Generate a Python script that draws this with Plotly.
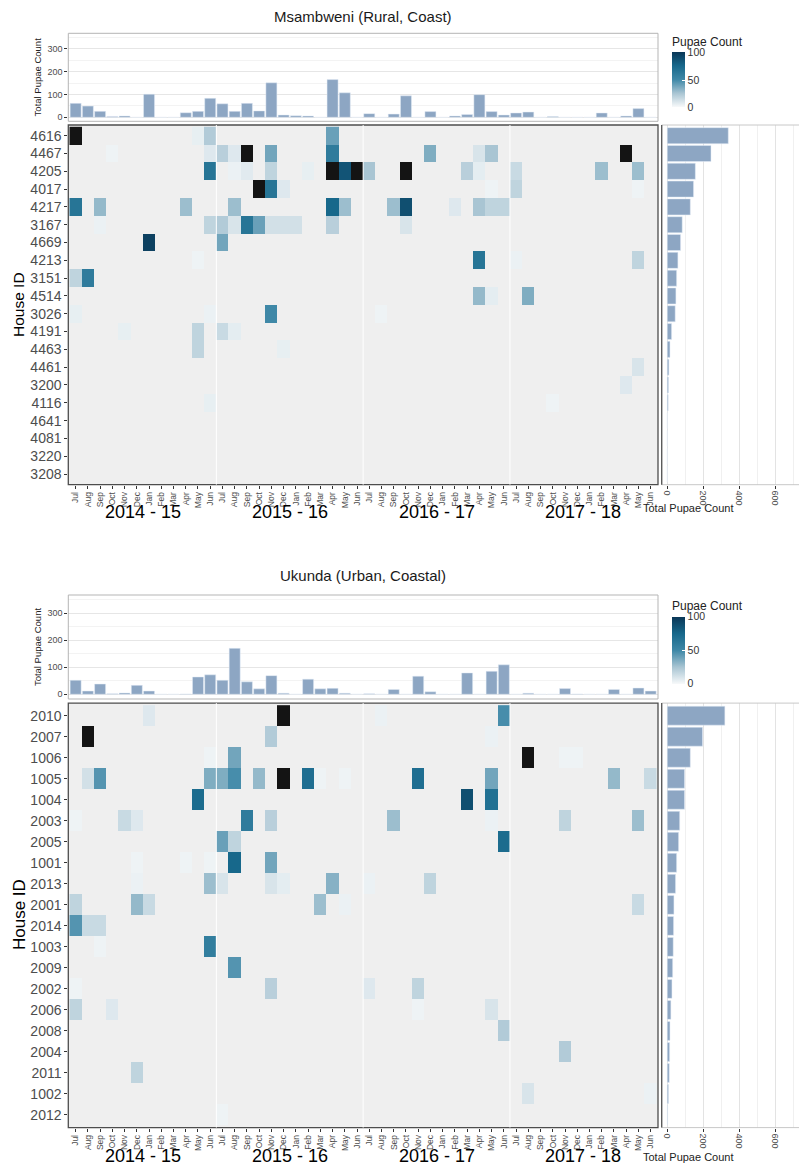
import numpy as np
import plotly.graph_objects as go

W, H = 799, 1166
def fx(p): return p / W
def fy(p): return 1 - p / H

# ---------------- data ----------------
months = ["Jul", "Aug", "Sep", "Oct", "Nov", "Dec", "Jan", "Feb", "Mar", "Apr", "May", "Jun"] * 4
seasons = ["2014 - 15", "2015 - 16", "2016 - 17", "2017 - 18"]

msa_houses = ["4616", "4467", "4205", "4017", "4217", "3167", "4669", "4213", "3151", "4514",
              "3026", "4191", "4463", "4461", "3200", "4116", "4641", "4081", "3220", "3208"]
# monthly pupae per house: {month index (0 = Jul 2014): count}
msa_cells = {
    "4616": {0: 150, 10: 5, 11: 22, 21: 40},
    "4467": {3: 3, 11: 8, 12: 20, 13: 8, 14: 150, 16: 38, 21: 60, 29: 35, 33: 10, 34: 25, 45: 150},
    "4205": {11: 65, 13: 4, 14: 7, 16: 18, 19: 5, 21: 150, 22: 85, 23: 150, 24: 25, 27: 150,
             32: 20, 33: 6, 36: 15, 43: 28, 46: 28},
    "4017": {15: 150, 16: 65, 17: 8, 34: 3, 36: 18, 46: 3},
    "4217": {0: 65, 2: 30, 9: 28, 13: 28, 21: 75, 22: 28, 26: 28, 27: 88, 31: 8, 33: 25, 34: 18, 35: 18},
    "3167": {2: 4, 11: 18, 12: 22, 13: 10, 14: 65, 15: 40, 16: 12, 17: 12, 18: 12, 21: 20, 27: 10},
    "4669": {6: 95, 12: 38},
    "4213": {10: 3, 33: 65, 36: 4, 46: 18},
    "3151": {0: 18, 1: 60},
    "4514": {33: 30, 34: 6, 37: 35},
    "3026": {0: 5, 11: 4, 16: 50, 25: 3},
    "4191": {4: 5, 10: 18, 12: 15, 13: 6},
    "4463": {10: 18, 17: 5},
    "4461": {46: 10},
    "3200": {45: 8},
    "4116": {11: 5, 39: 3},
    "4641": {}, "4081": {}, "3220": {}, "3208": {},
}
msa_month_totals = [61, 49, 26, 4, 6, 0, 101, 0, 0, 20, 26, 83,
                    59, 26, 61, 28, 151, 10, 7, 6, 0, 165, 107, 0,
                    16, 0, 14, 94, 0, 25, 0, 6, 12, 99, 25, 10,
                    19, 23, 0, 3, 0, 0, 0, 19, 0, 6, 38, 0]
msa_house_totals = [339, 243, 156, 146, 128, 83, 74, 59, 52, 48, 44, 24, 15, 9, 7, 5, 0, 0, 0, 0]

uku_houses = ["2010", "2007", "1006", "1005", "1004", "2003", "2005", "1001", "2013", "2001",
              "2014", "1003", "2009", "2002", "2006", "2008", "2004", "2011", "1002", "2012"]
uku_cells = {
    "2010": {6: 8, 17: 150, 25: 4, 35: 48},
    "2007": {1: 150, 16: 22, 34: 4},
    "1006": {11: 3, 13: 38, 37: 150, 40: 3, 41: 3},
    "1005": {1: 12, 2: 45, 11: 35, 12: 35, 13: 48, 15: 30, 17: 150, 19: 70, 20: 3, 22: 3,
             28: 70, 34: 38, 44: 30, 47: 15},
    "1004": {10: 72, 32: 88, 34: 68},
    "2003": {0: 3, 4: 15, 5: 8, 14: 60, 16: 20, 26: 28, 34: 4, 40: 18, 46: 28},
    "2005": {12: 40, 13: 18, 35: 72},
    "1001": {5: 3, 9: 3, 11: 3, 13: 75, 16: 38},
    "2013": {5: 4, 11: 28, 12: 10, 16: 10, 17: 6, 21: 33, 24: 4, 29: 18},
    "2001": {0: 18, 5: 30, 6: 15, 20: 28, 22: 4, 46: 15},
    "2014": {0: 45, 1: 15, 2: 15},
    "1003": {2: 3, 11: 58},
    "2009": {13: 45},
    "2002": {0: 3, 16: 20, 24: 8, 28: 18},
    "2006": {0: 18, 3: 8, 28: 3, 34: 10},
    "2008": {35: 22},
    "2004": {40: 22},
    "2011": {5: 18},
    "1002": {37: 10, 47: 4},
    "2012": {12: 3},
}
uku_month_totals = [52, 12, 38, 2, 5, 33, 12, 0, 0, 1, 64, 72,
                    52, 170, 46, 20, 69, 4, 0, 56, 20, 22, 4, 0,
                    2, 0, 18, 0, 67, 9, 0, 0, 79, 0, 85, 109,
                    0, 4, 0, 0, 21, 1, 0, 0, 18, 0, 23, 12]
uku_house_totals = [320, 196, 128, 96, 96, 69, 63, 52, 46, 37, 35, 33, 30, 26, 20, 15, 13, 11, 7, 2]

# ---------------- styling ----------------
FONT = "Liberation Sans, Arial, sans-serif"
GREY = "#4d4d4d"
BAR = "#8da6c3"
CSCALE = [[0, "#f7f9fa"], [0.25, "#a9c5d3"], [0.5, "#3f88a7"], [0.75, "#17688b"], [1, "#0a3757"]]
HEAT_X = [fx(68.3), fx(658)]
RIGHT_X = [fx(661.7), 1.0]

panels = [
    dict(name="Msambweni (Rural, Coast)", houses=msa_houses, cells=msa_cells,
         mt=msa_month_totals, ht=msa_house_totals,
         title_y=16, top=(33.3, 121.3), heat=(125.0, 484.7), year_y=512, rtitle_y=508,
         cb_mid=70.5, cb_len=74, hid_size=15.5, hid_y=305),
    dict(name="Ukunda (Urban, Coastal)", houses=uku_houses, cells=uku_cells,
         mt=uku_month_totals, ht=uku_house_totals,
         title_y=576, top=(595, 699), heat=(703.1, 1127.6), year_y=1156, rtitle_y=1157,
         cb_mid=640.5, cb_len=86, hid_size=17, hid_y=915),
]

def aid(letter, n):
    return letter if n == 1 else f"{letter}{n}"

def lname(a):
    return ("xaxis" if a[0] == "x" else "yaxis") + a[1:]

fig = go.Figure()
layout = dict(width=W, height=H, margin=dict(l=0, r=0, t=0, b=0),
              paper_bgcolor="white", plot_bgcolor="white",
              font=dict(family=FONT, color=GREY), showlegend=False,
              shapes=[], annotations=[])

for k, P in enumerate(panels):
    n = 3 * k
    xh, xt, xr = aid("x", n + 1), aid("x", n + 2), aid("x", n + 3)
    yh, yt, yr = aid("y", n + 1), aid("y", n + 2), aid("y", n + 3)

    houses = P["houses"]
    nh = len(houses)
    z = np.full((nh, 48), np.nan)
    for i, h in enumerate(houses):
        for c, v in P["cells"][h].items():
            z[i, c] = v
    z_in = np.where(z <= 100, z, np.nan)
    z_over = np.where(z > 100, 1.0, np.nan)

    fig.add_trace(go.Heatmap(
        z=z_in, x=list(range(48)), y=list(range(nh)), zmin=0, zmax=100,
        colorscale=CSCALE, xaxis=xh, yaxis=yh, hoverongaps=False,
        colorbar=dict(title=dict(text="Pupae Count", side="top", font=dict(size=12, color="#222")),
                      x=fx(672), xanchor="left", xpad=0, ypad=0,
                      y=fy(P["cb_mid"]), yanchor="middle", lenmode="pixels", len=P["cb_len"],
                      thickness=13, tickvals=[0, 50, 100], ticks="inside", ticklen=3,
                      tickcolor="white", tickfont=dict(size=10.5, color="#333"), outlinewidth=0)))
    fig.add_trace(go.Heatmap(
        z=z_over, x=list(range(48)), y=list(range(nh)), zmin=0, zmax=1,
        colorscale=[[0, "#141414"], [1, "#141414"]], showscale=False,
        xaxis=xh, yaxis=yh, hoverongaps=False))
    fig.add_trace(go.Bar(x=list(range(48)), y=P["mt"], marker_color=BAR, width=0.9,
                         xaxis=xt, yaxis=yt))
    fig.add_trace(go.Bar(y=list(range(nh)), x=P["ht"], orientation="h", marker_color=BAR,
                         width=0.9, xaxis=xr, yaxis=yr))

    heat_dom = [fy(P["heat"][1]), fy(P["heat"][0])]
    top_dom = [fy(P["top"][1]), fy(P["top"][0])]
    yrange = [nh - 0.4, -0.6]

    layout[lname(xh)] = dict(domain=HEAT_X, anchor=yh, range=[-0.6, 47.6], tickmode="array",
                             tickvals=list(range(48)), ticktext=months, tickangle=-90,
                             tickfont=dict(size=8.5, color=GREY), ticks="outside", ticklen=3,
                             tickcolor="#333", showgrid=False, zeroline=False, showline=False,
                             automargin=False)
    layout[lname(yh)] = dict(domain=heat_dom, anchor=xh, range=yrange, tickmode="array",
                             tickvals=list(range(nh)), ticktext=houses,
                             tickfont=dict(size=14, color=GREY), ticks="outside", ticklen=3,
                             tickcolor="#333", showgrid=False, zeroline=False, automargin=False)
    layout[lname(xt)] = dict(domain=HEAT_X, anchor=yt, range=[-0.6, 47.6], showticklabels=False,
                             showgrid=False, zeroline=False, ticks="", automargin=False)
    layout[lname(yt)] = dict(domain=top_dom, anchor=xt, range=[-17.5, 367.5],
                             tickvals=[0, 100, 200, 300], tickfont=dict(size=9, color=GREY),
                             ticks="outside", ticklen=3, tickcolor="#333",
                             gridcolor="#e6e6e6", gridwidth=1, zeroline=False,
                             minor=dict(tickvals=[50, 150, 250, 350], showgrid=True,
                                        gridcolor="#f3f3f3", ticks=""),
                             title=dict(text="Total Pupae Count", font=dict(size=9.5, color="#222"),
                                        standoff=4),
                             automargin=False)
    layout[lname(xr)] = dict(domain=RIGHT_X, anchor=yr, range=[-31, 732],
                             tickvals=[0, 200, 400, 600], tickangle=90,
                             tickfont=dict(size=9, color=GREY), ticks="outside", ticklen=3,
                             tickcolor="#333", gridcolor="#e3e3e3", zeroline=False,
                             minor=dict(tickvals=[100, 300, 500, 700], showgrid=True,
                                        gridcolor="#f0f0f0", ticks=""),
                             automargin=False)
    layout[lname(yr)] = dict(domain=heat_dom, anchor=xr, range=yrange, showticklabels=False,
                             showgrid=False, zeroline=False, ticks="", automargin=False)

    # panel backgrounds / borders
    layout["shapes"] += [
        dict(type="rect", xref=f"{xh} domain", yref=f"{yh} domain", x0=0, x1=1, y0=0, y1=1,
             fillcolor="#efefef", line=dict(color="#4d4d4d", width=1.3), layer="below"),
        dict(type="rect", xref=f"{xt} domain", yref=f"{yt} domain", x0=0, x1=1, y0=0, y1=1,
             fillcolor="rgba(0,0,0,0)", line=dict(color="#b5b5b5", width=1), layer="above"),
        dict(type="rect", xref=f"{xr} domain", yref=f"{yr} domain", x0=0, x1=1.02, y0=0, y1=1,
             fillcolor="rgba(0,0,0,0)", line=dict(color="#c8c8c8", width=1), layer="above"),
        dict(type="line", xref=f"{xr} domain", yref=f"{yr} domain", x0=0, x1=0, y0=0, y1=1,
             line=dict(color="#555555", width=1.3), layer="above"),
    ]
    for b in [11.5, 23.5, 35.5]:
        layout["shapes"].append(dict(type="line", xref=xh, yref=f"{yh} domain", x0=b, x1=b,
                                     y0=0, y1=1, line=dict(color="white", width=1),
                                     layer="above"))

    # annotations
    layout["annotations"].append(dict(text=P["name"], x=fx(363), y=fy(P["title_y"]),
                                      xref="paper", yref="paper", showarrow=False,
                                      font=dict(size=15, color="#1a1a1a"), yanchor="middle"))
    for s, season in enumerate(seasons):
        layout["annotations"].append(dict(text=season, x=12 * s + 5.5, xref=xh,
                                          y=fy(P["year_y"]), yref="paper", showarrow=False,
                                          font=dict(size=18, color="black"), yanchor="middle"))
    layout["annotations"].append(dict(text="House ID", x=fx(19), y=fy(P["hid_y"]),
                                      xref="paper", yref="paper", showarrow=False, textangle=-90,
                                      font=dict(size=P["hid_size"], color="black"),
                                      xanchor="center", yanchor="middle"))
    layout["annotations"].append(dict(text="Total Pupae Count", x=fx(736), y=fy(P["rtitle_y"]),
                                      xref="paper", yref="paper", showarrow=False,
                                      font=dict(size=11, color="#222"), yanchor="middle"))

fig.update_layout(**layout)
fig.write_html("out.html", config={"displayModeBar": False},
               post_script="document.body.style.margin='0';document.body.style.overflow='hidden';")
